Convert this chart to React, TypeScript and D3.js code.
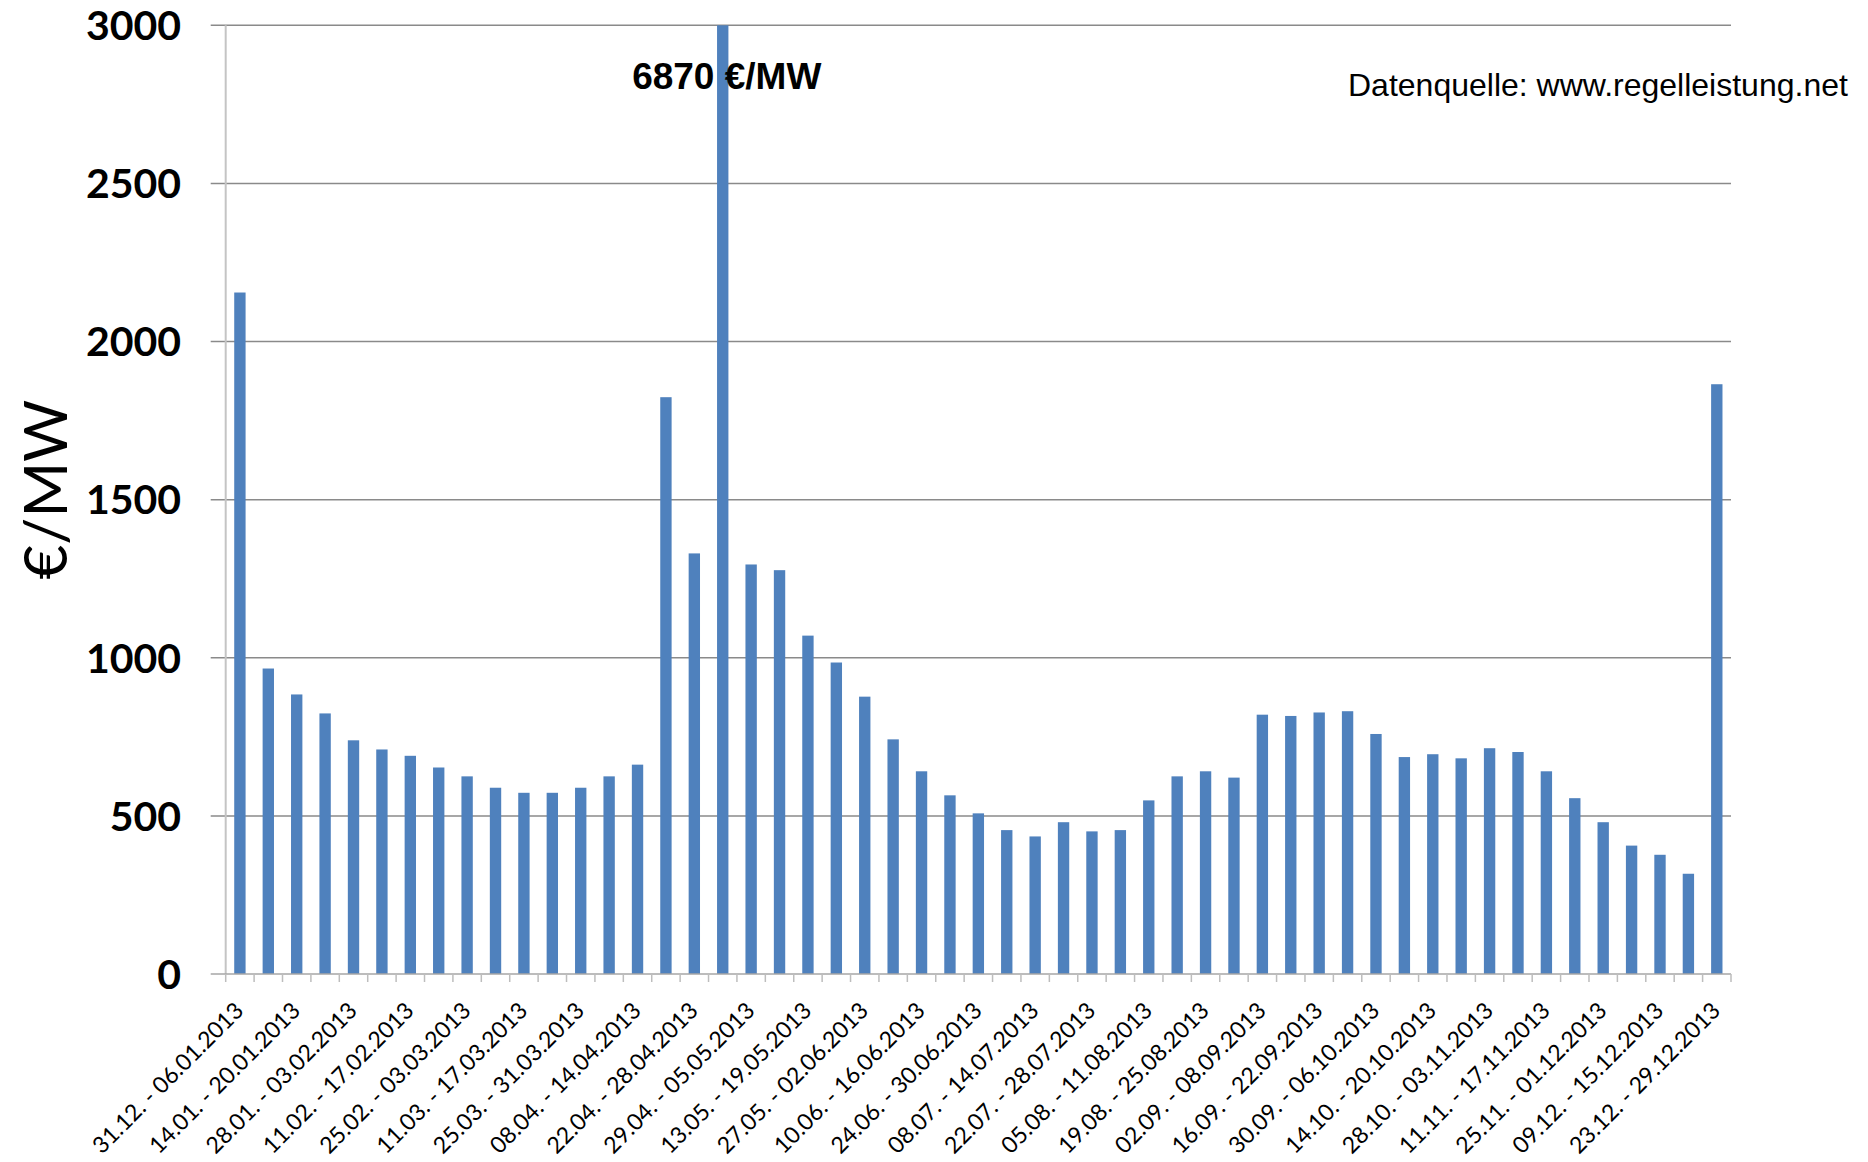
import React, { useEffect, useRef } from 'react'
import * as d3 from 'd3'

// tick labels shown under every other bar
const weekLabels = [
    '31.12. - 06.01.2013', '14.01. - 20.01.2013', '28.01. - 03.02.2013', '11.02. - 17.02.2013',
    '25.02. - 03.03.2013', '11.03. - 17.03.2013', '25.03. - 31.03.2013', '08.04. - 14.04.2013',
    '22.04. - 28.04.2013', '29.04. - 05.05.2013', '13.05. - 19.05.2013', '27.05. - 02.06.2013',
    '10.06. - 16.06.2013', '24.06. - 30.06.2013', '08.07. - 14.07.2013', '22.07. - 28.07.2013',
    '05.08. - 11.08.2013', '19.08. - 25.08.2013', '02.09. - 08.09.2013', '16.09. - 22.09.2013',
    '30.09. - 06.10.2013', '14.10. - 20.10.2013', '28.10. - 03.11.2013', '11.11. - 17.11.2013',
    '25.11. - 01.12.2013', '09.12. - 15.12.2013', '23.12. - 29.12.2013'
]

// €/MW per tender period (53 bars)
const prices = [
    2155, 966, 884, 824, 739, 710, 690, 653, 625, 589, 573, 573, 589, 625, 662, 1824, 1330, 6870,
    1295, 1277, 1070, 985, 877, 742, 641, 565, 508, 455, 435, 480, 451, 455, 549, 625, 641, 621,
    820, 816, 827, 831, 759, 686, 695, 682, 714, 702, 641, 556, 480, 406, 377, 317, 1865
]

const yTicks = [0, 500, 1000, 1500, 2000, 2500, 3000]
const yTitle = '€/MW'
const peakNote = '6870 €/MW'
const sourceNote = 'Datenquelle: www.regelleistung.net'

const App = () => {
    const svgRef = useRef<SVGSVGElement>(null)

    useEffect(() => {
        const svg = d3.select(svgRef.current)
        svg.selectAll('*').remove()

        const left = 225.7
        const right = 1731
        const top = 25.3
        const bottom = 974
        const yMax = 3000

        const x = d3.scaleBand<number>()
            .domain(d3.range(prices.length))
            .range([left, right])
            .paddingInner(0.6)
            .paddingOuter(0.3)

        const y = d3.scaleLinear().domain([0, yMax]).range([bottom, top])
        const step = x.step()

        // gridlines + y ticks
        svg.append('g')
            .selectAll('line')
            .data(yTicks.filter(d => d > 0))
            .enter()
            .append('line')
            .attr('x1', left - 15)
            .attr('x2', right)
            .attr('y1', d => y(d))
            .attr('y2', d => y(d))
            .attr('stroke', '#8a8a8a')
            .attr('stroke-width', 1.5)

        // y axis line
        svg.append('line')
            .attr('x1', left).attr('x2', left)
            .attr('y1', top).attr('y2', bottom)
            .attr('stroke', '#c4c4c4')
            .attr('stroke-width', 2)

        // bars (the spike is cut at the top of the axis)
        svg.append('g')
            .selectAll('rect')
            .data(prices)
            .enter()
            .append('rect')
            .attr('x', (d, i) => x(i) as number)
            .attr('width', x.bandwidth())
            .attr('y', d => y(Math.min(d, yMax)))
            .attr('height', d => bottom - y(Math.min(d, yMax)))
            .attr('fill', '#4f81bd')

        // x axis line & ticks between categories
        svg.append('line')
            .attr('x1', left - 15).attr('x2', right)
            .attr('y1', bottom).attr('y2', bottom)
            .attr('stroke', '#a6a6a6')
            .attr('stroke-width', 1.5)

        svg.append('g')
            .selectAll('line')
            .data(d3.range(prices.length + 1))
            .enter()
            .append('line')
            .attr('x1', i => left + i * step)
            .attr('x2', i => left + i * step)
            .attr('y1', bottom)
            .attr('y2', bottom + 8)
            .attr('stroke', '#bdbdbd')
            .attr('stroke-width', 1.5)

        // y tick labels
        svg.append('g')
            .selectAll('text')
            .data(yTicks)
            .enter()
            .append('text')
            .attr('x', 181)
            .attr('y', d => y(d))
            .attr('dy', '0.36em')
            .attr('text-anchor', 'end')
            .style('font-family', 'Lato, "Liberation Sans", sans-serif')
            .style('font-weight', 'bold')
            .style('font-size', '41px')
            .attr('fill', '#000')
            .text(d => d)

        // x tick labels, every other category
        svg.append('g')
            .selectAll('text')
            .data(weekLabels)
            .enter()
            .append('text')
            .attr('transform', (d, i) => {
                const cx = (x(i * 2) as number) + x.bandwidth() / 2 + 5
                return `translate(${cx},${bottom + 38}) rotate(-45)`
            })
            .attr('text-anchor', 'end')
            .style('font-family', 'Lato, "Liberation Sans", sans-serif')
            .style('font-size', '23px')
            .attr('fill', '#000')
            .text(d => d)

        // y axis title
        svg.append('text')
            .attr('transform', `translate(67,${(top + bottom) / 2 - 10}) rotate(-90)`)
            .attr('text-anchor', 'middle')
            .style('font-family', 'Lato, "Liberation Sans", sans-serif')
            .style('font-size', '60px')
            .attr('fill', '#000')
            .text(yTitle)

        // note on the clipped bar
        const peakIdx = prices.indexOf(d3.max(prices) as number)
        svg.append('text')
            .attr('x', (x(peakIdx) as number) + x.bandwidth() / 2 + 4)
            .attr('y', 89)
            .attr('text-anchor', 'middle')
            .style('font-family', '"Liberation Sans", Arial, sans-serif')
            .style('font-weight', 'bold')
            .style('font-size', '37px')
            .attr('fill', '#000')
            .text(peakNote)

        // source
        svg.append('text')
            .attr('x', 1348)
            .attr('y', 96)
            .style('font-family', '"Liberation Sans", Arial, sans-serif')
            .style('font-size', '32px')
            .attr('fill', '#000')
            .text(sourceNote)
    }, [])

    return (
        <svg
            ref={svgRef}
            width={1868}
            height={1162}
            style={{ position: 'absolute', left: 0, top: 0, background: '#fff' }}
        />
    )
}

export default App
